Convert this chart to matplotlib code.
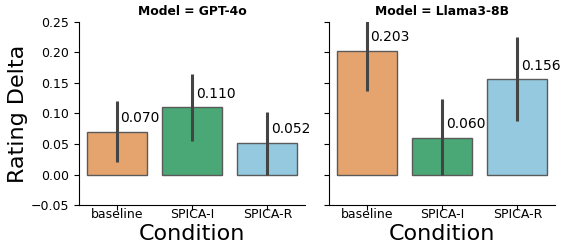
import numpy as np
import matplotlib.pyplot as plt

conditions = ['baseline', 'SPICA-I', 'SPICA-R']
models = ['GPT-4o', 'Llama3-8B']
means = {'GPT-4o': [0.070, 0.110, 0.052],
         'Llama3-8B': [0.203, 0.060, 0.156]}
ci_low = {'GPT-4o': [0.020, 0.055, 0.000],
          'Llama3-8B': [0.137, 0.000, 0.087]}
ci_high = {'GPT-4o': [0.120, 0.165, 0.103],
           'Llama3-8B': [0.270, 0.124, 0.225]}
colors = ['#E5A46E', '#4AA876', '#94C9E0']

fig = plt.figure(figsize=(5.62, 2.48), dpi=100)
ax1 = fig.add_axes([79 / 562, 43 / 248, 226 / 562, 183 / 248])
ax2 = fig.add_axes([329 / 562, 43 / 248, 226 / 562, 183 / 248], sharey=ax1)

for ax, model in zip([ax1, ax2], models):
    x = np.arange(len(conditions))
    ax.bar(x, means[model], width=0.8, color=colors,
           edgecolor='#5a5a5a', linewidth=1.0)
    for i in x:
        ax.plot([i, i], [ci_low[model][i], ci_high[model][i]],
                color='#444444', lw=2.2, solid_capstyle='butt', clip_on=True)
        ax.text(i + 0.05, means[model][i] + 0.022, f'{means[model][i]:.3f}',
                ha='left', va='center', fontsize=10)
    ax.set_xticks(x)
    ax.set_xticklabels(conditions, fontsize=9)
    ax.tick_params(axis='x', pad=-1)
    ax.set_xlim(-0.5, 2.5)
    ax.set_ylim(-0.05, 0.25)
    ax.set_title(f'Model = {model}', fontsize=8.9, fontweight='bold', pad=5)
    ax.set_xlabel('Condition', fontsize=16, labelpad=2)
    ax.spines['top'].set_visible(False)
    ax.spines['right'].set_visible(False)

ax1.set_yticks([-0.05, 0.0, 0.05, 0.10, 0.15, 0.20, 0.25])
ax1.set_yticklabels(['\u22120.05', '0.00', '0.05', '0.10', '0.15', '0.20', '0.25'], fontsize=9)
ax1.set_ylabel('Rating Delta', fontsize=16, labelpad=2)
ax2.tick_params(axis='y', labelleft=False)

fig.savefig('out.png', dpi=100)
